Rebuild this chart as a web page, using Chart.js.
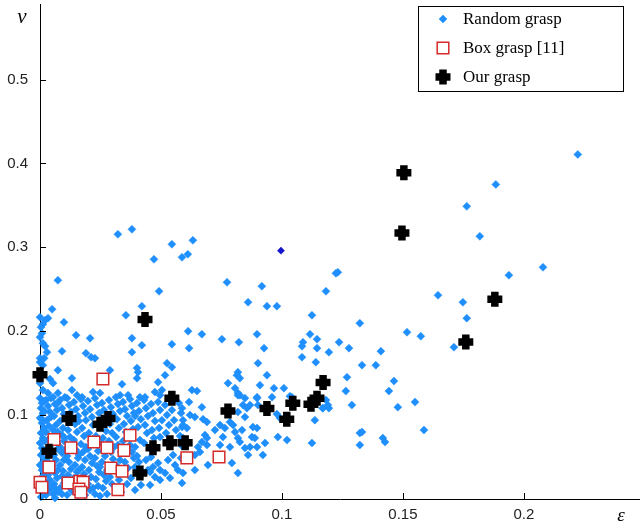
<!DOCTYPE html>
<html>
<head>
<meta charset="UTF-8">
<title>Grasp quality</title>
<script src="https://cdn.jsdelivr.net/npm/chart.js"></script>
<style>
    html, body { margin: 0; padding: 0; background: #fff; }
    canvas { display: block; }
</style>
</head>
<body>
<canvas id="graspChart" width="640" height="529"></canvas>
<script>
// epsilon (x) / nu (y) pairs
const randomGrasp = [
    [.2223,.4107],[.1884,.375],[.1764,.3488],[.1818,.3131],[.2079,.2762],[.1938,.2667],[.1645,.2429],[.1748,.2345],
    [.1764,.2155],[.1517,.1988],[.1574,.1940],[.1711,.1810],[.1409,.1762],[.1182,.2476],[.1322,.2095],[.1236,.1869],
    [.1277,.1798],[.1194,.1750],[.1331,.1595],[.1388,.1595],[.1269,.1452],[.1463,.1405],[.1264,.1286],[.1442,.1286],
    [.1182,.1179],[.1169,.1083],[.1194,.1083],[.1289,.1119],[.1479,.1095],[.1550,.1155],[.1587,.0821],[.1322,.0786],
    [.1331,.0798],[.1322,.0643],[.1417,.0726],[.1426,.0679],[.1231,.2702],[.1223,.2690],
    [.0322,.3155],[.0380,.3214],[.0545,.3036],[.0632,.3083],[.0471,.2857],[.0587,.2881],[.0611,.2917],[.0074,.2607],
    [.0492,.2476],[.0773,.2583],[.0917,.2536],[.0860,.2345],[.0938,.2298],[.0979,.2298],[.0050,.2262],[.0421,.2298],
    [.0355,.2190],[.1124,.2190],[.0099,.2107],[.0000,.2167],[.0021,.2131],[.0012,.2083],[.0033,.2155],[.0004,.2048],
    [.0149,.1952],[.0207,.1917],[.0380,.1917],[.0612,.2000],[.0669,.1964],[.0752,.1905],[.0822,.1869],[.0897,.1964],
    [.0926,.1798],[.1116,.1964],[.1145,.1905],[.1087,.1869],[.1083,.1821],[.1145,.1798],[.0545,.1845],[.0421,.1833],
    [.0616,.1798],[.0000,.1929],[.0012,.1857],[.0021,.1821],[.0091,.1762],[.0380,.1750],[.0190,.1738],[.0211,.1690],
    [.0227,.1679],[.0029,.1750],[.0000,.1679],[.0017,.1679],[.1083,.1690],[.0008,.1976],[.0000,.1631],[.0012,.1595],
    [.0074,.1536],[.0132,.1440],[.0289,.1536],[.0401,.1560],[.0405,.1512],[.0401,.1440],[.0525,.1619],[.0545,.1571],
    [.0517,.1476],[.0488,.1393],[.0339,.1369],[.0041,.1429],[.0054,.1381],[.0000,.1381],[.0012,.1298],[.0033,.1262],
    [.0074,.1262],[.0132,.1298],[.0153,.1238],[.0174,.1214],[.0219,.1274],[.0248,.1262],[.0331,.1238],[.0364,.1238],
    [.0413,.1214],[.0434,.1214],[.0475,.1274],[.0504,.1298],[.0496,.1238],
    [.1140,.1631],[.0901,.1619],[.0818,.1512],[.0814,.1476],[.0826,.1440],[.0938,.1476],[.0777,.1381],[.0806,.1321],
    [.0818,.1262],[.0826,.1238],[.0909,.1357],[.0967,.1321],[.1008,.1321],[.0628,.1298],[.0649,.1286],[.0897,.1214],
    [.0959,.1214],[.1041,.1214],
    [.0616,.1155],[.0669,.1095],[.0587,.1083],[.0620,.1000],[.0640,.0976],[.0674,.0952],[.0690,.0917],[.0591,.0940],
    [.0723,.0821],[.0744,.0881],[.0682,.0762],[.0690,.0726],[.0669,.0679],[.0690,.0643],[.0653,.0619],[.0661,.0560],
    [.0640,.0524],[.0587,.0857],[.0607,.0845],[.0591,.0726],[.0694,.0405],[.0640,.0345],[.0591,.0310],[.0587,.0190],
    [.0744,.0643],[.0764,.0845],[.0756,.0738],[.0798,.0881],[.0785,.0917],[.0818,.1036],[.0847,.0976],[.0855,.1083],
    [.0868,.1119],[.0897,.1202],[.0806,.0798],[.0835,.0821],[.0826,.0679],[.0818,.0726],[.0847,.0607],[.0785,.0619],
    [.0868,.0619],[.0897,.0619],[.0876,.0738],[.0888,.0726],[.0880,.0857],[.0897,.0845],[.0930,.0667],[.0860,.0524],
    [.0921,.0524],[.0793,.0429],[.0818,.0310],[.0979,.1012],[.0992,.0964],[.0983,.0738],[.1021,.0702],[.1136,.0940],
    [.1124,.0667],[.1169,.1083],[.1190,.1119],[.0901,.1119],[.0839,.1119],[.0847,.1202],[.0818,.1238],[.1033,.1226],
    [.0000,.1202],[.0008,.1143],[.0004,.1083],[.0012,.1024],[.0000,.0964],[.0008,.0905],[.0017,.0845],[.0004,.0786],
    [.0012,.0726],[.0000,.0667],[.0008,.0607],[.0004,.0524],[.0017,.0464],[.0000,.0405],[.0008,.0345],[.0012,.0274],
    [.0004,.0214],[.0000,.0143],[.0008,.0083],[.0004,.0024],
    [.0025,.1179],[.0033,.1107],[.0041,.1036],[.0029,.0940],[.0037,.0869],[.0025,.0798],[.0033,.0702],[.0041,.0631],
    [.0029,.0488],[.0037,.0429],[.0025,.0345],[.0033,.0286],[.0041,.0226],[.0029,.0167],[.0037,.0107],[.0025,.0048],
    [.0054,.1214],[.0062,.1131],[.0070,.1060],[.0058,.0988],[.0066,.0881],[.0054,.0821],[.0062,.0750],[.0070,.0667],
    [.0058,.0524],[.0066,.0464],[.0054,.0393],[.0062,.0310],[.0070,.0250],[.0058,.0179],[.0066,.0119],[.0054,.0060],
    [.0062,.0012],
    [.0083,.1179],[.0091,.1083],[.0099,.1012],[.0083,.0929],[.0095,.0845],[.0091,.0762],[.0099,.0690],[.0083,.0619],
    [.0091,.0548],[.0099,.0464],[.0083,.0405],[.0095,.0333],[.0091,.0274],[.0099,.0190],[.0083,.0131],[.0091,.0060],
    [.0112,.1202],[.0120,.1119],[.0128,.1036],[.0116,.0821],[.0124,.0738],[.0112,.0512],[.0120,.0440],[.0128,.0357],
    [.0116,.0286],[.0124,.0131],[.0112,.0048],
    [.0140,.1155],[.0149,.1071],[.0157,.0988],[.0145,.0893],[.0153,.0798],[.0140,.0702],[.0149,.0583],[.0157,.0488],
    [.0145,.0405],[.0153,.0321],[.0140,.0250],[.0149,.0167],[.0157,.0048],
    [.0169,.1190],[.0178,.1107],[.0186,.1024],[.0174,.0845],[.0182,.0750],[.0169,.0655],[.0178,.0560],[.0186,.0464],
    [.0174,.0381],[.0182,.0298],[.0186,.0048],
    [.0198,.1167],[.0207,.1071],[.0215,.0976],[.0202,.0786],[.0211,.0690],[.0198,.0595],[.0207,.0512],[.0215,.0429],
    [.0202,.0345],[.0211,.0262],[.0198,.0179],[.0207,.0107],
    [.0227,.1202],[.0236,.1119],[.0244,.1024],[.0231,.0750],[.0240,.0571],[.0227,.0488],[.0236,.0393],[.0244,.0321],
    [.0231,.0238],[.0240,.0155],[.0227,.0060],
    [.0256,.1143],[.0264,.1060],[.0273,.0810],[.0260,.0726],[.0269,.0512],[.0256,.0440],[.0264,.0286],[.0273,.0214],
    [.0260,.0131],
    [.0285,.1179],[.0293,.1095],[.0302,.1012],[.0289,.0893],[.0298,.0786],[.0285,.0690],[.0293,.0560],[.0302,.0476],
    [.0289,.0262],[.0298,.0179],
    [.0314,.1214],[.0322,.1131],[.0331,.1048],[.0318,.0952],[.0326,.0845],[.0314,.0738],[.0322,.0643],[.0331,.0464],
    [.0318,.0393],[.0326,.0226],
    [.0343,.1155],[.0351,.1071],[.0360,.0988],[.0347,.0893],[.0355,.0798],[.0343,.0690],[.0351,.0440],[.0360,.0179],
    [.0372,.1190],[.0380,.1107],[.0388,.1024],[.0376,.0929],[.0384,.0833],[.0372,.0643],[.0380,.0560],[.0388,.0488],
    [.0376,.0250],
    [.0401,.1143],[.0409,.1048],[.0417,.0952],[.0405,.0857],[.0413,.0702],[.0401,.0512],[.0409,.0440],[.0417,.0167],
    [.0430,.1179],[.0438,.1083],[.0446,.0988],[.0434,.0881],[.0442,.0786],[.0430,.0667],[.0438,.0464],[.0446,.0345],
    [.0459,.1131],[.0467,.1024],[.0475,.0929],[.0463,.0821],[.0471,.0726],[.0459,.0500],[.0467,.0381],[.0475,.0262],
    [.0488,.1155],[.0496,.1060],[.0504,.0940],[.0492,.0845],[.0496,.0738],[.0488,.0429],
    [.0517,.1119],[.0525,.1000],[.0533,.0881],[.0521,.0786],[.0529,.0464],[.0517,.0310],
    [.0545,.1060],[.0554,.0940],[.0562,.0821],[.0550,.0524],[.0558,.0405],
    [.0574,.1143],[.0583,.1024],[.0591,.0881],[.0579,.0750],[.0587,.0631],[.0583,.0488],
    // more samples inside the crowded lower-left cluster
    [.0017,.1167],[.0017,.1048],[.0017,.0929],[.0017,.0810],[.0017,.0690],[.0017,.0571],[.0017,.0440],[.0017,.0321],
    [.0017,.0202],[.0017,.0071],
    [.0045,.1202],[.0045,.0976],[.0045,.0738],[.0045,.0560],[.0045,.0369],[.0045,.0143],
    [.0074,.1143],[.0074,.0798],[.0074,.0595],[.0074,.0345],[.0074,.0083],
    [.0103,.1214],[.0103,.0964],[.0103,.0726],[.0103,.0583],[.0103,.0226],
    [.0132,.0940],[.0132,.0643],[.0132,.0202],[.0132,.0095],
    [.0161,.0929],[.0161,.0524],[.0161,.0345],
    [.0190,.0940],[.0190,.0619],[.0190,.0226],
    [.0219,.0881],[.0219,.0655],[.0219,.0131],
    [.0248,.0679],[.0248,.0381],[.0248,.0036],
    [.0277,.0976],[.0277,.0631],[.0277,.0345],[.0277,.0060],
    [.0306,.0964],[.0306,.0619],[.0306,.0345],
    [.0335,.0560],[.0335,.0310],[.0335,.0083],
    [.0364,.0738],[.0364,.0583],[.0364,.0369],
    [.0393,.0988],[.0393,.0619],[.0393,.0381],[.0393,.0107],
    [.0455,.0607],[.0455,.0321],[.0455,.0167],
    [.0496,.0345],[.0496,.0226],[.0537,.0250],[.0570,.0345]
];

const boxGrasp = [
    [.0260,.1430],[.0058,.0710],[.0128,.0610],[.0223,.0680],[.0277,.0610],[.0347,.0580],[.0372,.0760],
    [.0037,.0380],[.0293,.0370],[.0339,.0330],[.0000,.0200],[.0008,.0140],[.0116,.0190],[.0165,.0210],
    [.0178,.0200],[.0161,.0120],[.0169,.0080],[.0322,.0110],[.0607,.0490],[.0740,.0500]
];

const ourGrasp = [
    [.1504,.3890],[.1496,.3170],[.1880,.2380],[.1760,.1870],[.0434,.2140],[.0000,.1480],[.1170,.1390],
    [.0545,.1200],[.0120,.0960],[.0248,.0890],[.0281,.0960],[.0037,.0570],[.0467,.0610],[.0537,.0670],
    [.0600,.0670],[.0413,.0310],[.0777,.1050],[.0938,.1080],[.1020,.0950],[.1045,.1140],[.1120,.1130],
    [.1145,.1200]
];

// the single dark-blue sample
const markedGrasp = [[.0996,.2960]];

const seriesNames = ['Random grasp', 'Box grasp [11]', 'Our grasp'];
const xTicks = [0, 0.05, 0.1, 0.15, 0.2];
const xTickLabels = ['0', '0.05', '0.1', '0.15', '0.2'];
const yTicks = [0, 0.1, 0.2, 0.3, 0.4, 0.5];
const yTickLabels = ['0', '0.1', '0.2', '0.3', '0.4', '0.5'];

const toPoints = arr => arr.map(p => ({ x: p[0], y: p[1] }));

const BLUE = '#1e8ffc';
const RED = '#d42a2a';
const TICK_FONT = { family: 'Liberation Sans, Arial, sans-serif', size: 15 };

// inward tick marks, axis symbols and the boxed legend
const decorations = {
    id: 'decorations',
    afterDraw(chart) {
        const ctx = chart.ctx;
        const xs = chart.scales.x, ys = chart.scales.y;
        const area = chart.chartArea;
        ctx.save();
        ctx.strokeStyle = '#000';
        ctx.lineWidth = 1;
        ctx.beginPath();
        xTicks.forEach(v => {
            const px = Math.round(xs.getPixelForValue(v)) + 0.5;
            ctx.moveTo(px, area.bottom);
            ctx.lineTo(px, area.bottom - 6);
        });
        yTicks.forEach(v => {
            const py = Math.round(ys.getPixelForValue(v)) + 0.5;
            ctx.moveTo(area.left, py);
            ctx.lineTo(area.left + 6, py);
        });
        ctx.stroke();

        ctx.fillStyle = '#000';
        ctx.font = 'italic 21px "Liberation Serif", serif';
        ctx.textBaseline = 'middle';
        ctx.textAlign = 'center';
        ctx.fillText('\u03bd', 22, 17);
        ctx.font = 'italic 19px "Liberation Serif", serif';
        ctx.fillText('\u03b5', 621, 516);

        // legend
        const lx = 418.5, ly = 6.5, lw = 205, lh = 85;
        ctx.fillStyle = '#fff';
        ctx.fillRect(lx, ly, lw, lh);
        ctx.strokeStyle = '#000';
        ctx.strokeRect(lx, ly, lw, lh);
        const rows = [19, 48, 77];
        chart.data.datasets.slice(0, 3).forEach((ds, i) => {
            const style = {
                pointStyle: ds.pointStyle,
                radius: ds.pointRadius,
                rotation: 0,
                borderWidth: ds.pointBorderWidth
            };
            ctx.fillStyle = ds.pointBackgroundColor;
            ctx.strokeStyle = ds.pointBorderColor;
            ctx.lineWidth = ds.pointBorderWidth;
            Chart.helpers.drawPoint(ctx, style, 443, rows[i]);
            ctx.fillStyle = '#000';
            ctx.font = '17px "Liberation Serif", serif';
            ctx.textAlign = 'left';
            ctx.fillText(seriesNames[i], 463, rows[i] + 1);
        });
        ctx.restore();
    }
};

new Chart(document.getElementById('graspChart').getContext('2d'), {
    type: 'scatter',
    data: {
        datasets: [
            {
                label: seriesNames[0],
                data: toPoints(randomGrasp),
                pointStyle: 'rectRot',
                pointRadius: 4,
                pointBackgroundColor: BLUE,
                pointBorderColor: BLUE,
                pointBorderWidth: 0.5,
                order: 4,
                clip: false
            },
            {
                label: seriesNames[1],
                data: toPoints(boxGrasp),
                pointStyle: 'rect',
                pointRadius: 8.2,
                pointBackgroundColor: '#fff',
                pointBorderColor: RED,
                pointBorderWidth: 1.5,
                order: 2,
                clip: false
            },
            {
                label: seriesNames[2],
                data: toPoints(ourGrasp),
                pointStyle: 'cross',
                pointRadius: 7.5,
                pointBackgroundColor: '#000',
                pointBorderColor: '#000',
                pointBorderWidth: 7.5,
                order: 1,
                clip: false
            },
            {
                label: 'marked',
                data: toPoints(markedGrasp),
                pointStyle: 'rectRot',
                pointRadius: 3.6,
                pointBackgroundColor: '#1414cc',
                pointBorderColor: '#1414cc',
                pointBorderWidth: 0.5,
                order: 3,
                clip: false
            }
        ]
    },
    options: {
        responsive: false,
        animation: false,
        devicePixelRatio: 1,
        layout: { autoPadding: false, padding: { top: 4, right: 0, left: 0, bottom: 0 } },
        plugins: {
            legend: { display: false },
            tooltip: { enabled: false }
        },
        scales: {
            x: {
                type: 'linear',
                min: 0,
                max: 0.248,
                grid: { display: false, drawTicks: false },
                border: { display: true, color: '#000', width: 1 },
                afterBuildTicks: scale => { scale.ticks = xTicks.map(v => ({ value: v })); },
                afterFit: scale => {
                    scale.height = 30;
                    scale.paddingLeft = 0;
                    scale.paddingRight = 0;
                },
                ticks: {
                    padding: 7,
                    color: '#222',
                    font: TICK_FONT,
                    maxRotation: 0,
                    callback: (value, index) => xTickLabels[index]
                }
            },
            y: {
                type: 'linear',
                min: 0,
                max: 0.59,
                grid: { display: false, drawTicks: false },
                border: { display: true, color: '#000', width: 1 },
                afterBuildTicks: scale => { scale.ticks = yTicks.map(v => ({ value: v })); },
                afterFit: scale => {
                    scale.width = 40;
                    scale.paddingTop = 0;
                    scale.paddingBottom = 0;
                },
                ticks: {
                    padding: 12,
                    color: '#222',
                    font: TICK_FONT,
                    callback: (value, index) => yTickLabels[index]
                }
            }
        }
    },
    plugins: [decorations]
});
</script>
</body>
</html>
